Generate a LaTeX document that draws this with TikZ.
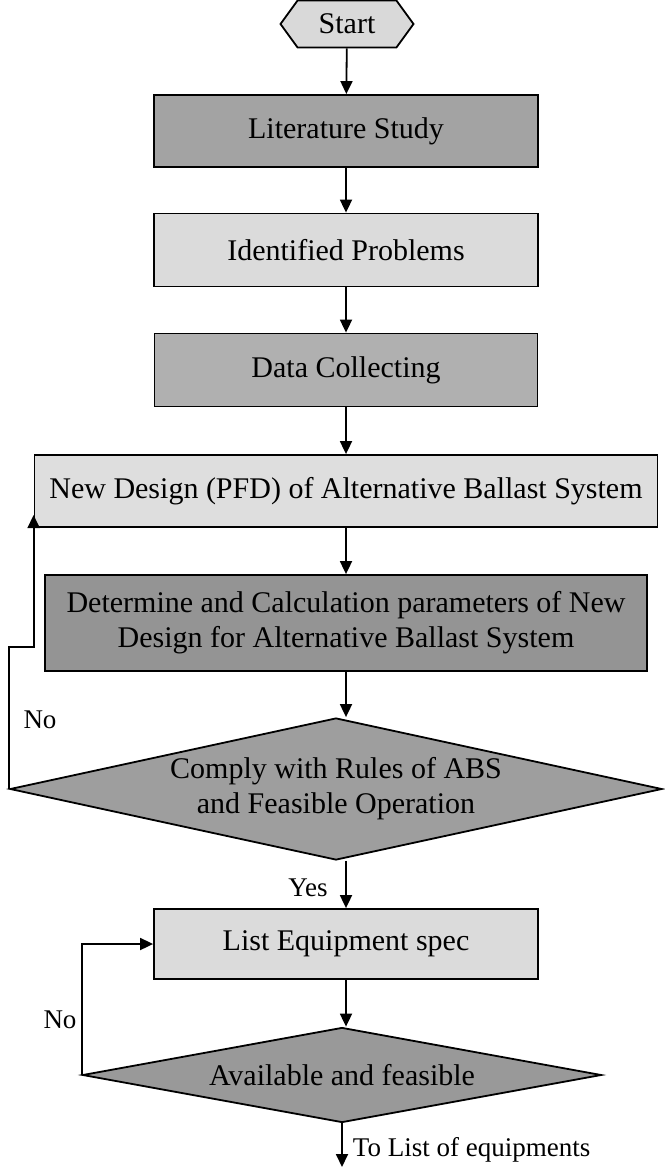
\documentclass[tikz,border=0pt]{standalone}
\usepackage{fontspec}
\setmainfont{Liberation Serif}
\usetikzlibrary{shapes.geometric,shapes.symbols,arrows.meta}

\begin{document}
\begin{tikzpicture}[x=1pt, y=1pt, line width=1.8pt, >={Triangle[length=13pt,width=12pt]}]
\tikzstyle{every node} = [font=\fontsize{30}{35}\selectfont, inner sep=0pt]
\tikzstyle{box} = [rectangle, draw, align=center]
\tikzstyle{decision} = [diamond, draw, align=center]
\tikzstyle{note} = [font=\fontsize{27}{32}\selectfont]
\useasboundingbox (0,0) rectangle (664,-1167);

\node (start) [signal, signal to=west and east, signal pointer angle=108, draw, fill=black!15, minimum width=133pt, minimum height=47pt] at (347,-24) {Start};
\node (lit) [box, fill=black!36, minimum width=384pt, minimum height=72pt] at (346,-131) {Literature Study};
\node (ident) [box, fill=black!14, minimum width=384pt, minimum height=73pt] at (346,-250) {Identified Problems};
\node (data) [box, fill=black!31, minimum width=383pt, minimum height=73pt] at (346,-370) {Data Collecting};
\node (pfd) [box, fill=black!13, minimum width=623pt, minimum height=72pt] at (346,-491) {New Design (PFD) of Alternative Ballast System};
\node (calc) [box, fill=black!42, minimum width=602pt, minimum height=96pt] at (346,-623) {Determine and Calculation parameters of New\\Design for Alternative Ballast System};
\node (rules) [decision, fill=black!38, aspect=4.59, minimum width=652pt, minimum height=142pt] at (336,-789) {Comply with Rules of ABS\\and Feasible Operation};
\node (spec) [box, fill=black!14, minimum width=384pt, minimum height=70pt] at (346,-944) {List Equipment spec};
\node (avail) [decision, fill=black!40, aspect=5.46, minimum width=519pt, minimum height=95pt] at (342,-1075) {Available and feasible};
\coordinate (out) at (342,-1167);

\node (yes) [note] at (308,-888) {Yes};
\node (no1) [note] at (40,-720) {No};
\node (no2) [note] at (60,-1020) {No};
\node (tolist) [note, anchor=west] at (352,-1150) {To List of equipments};

\draw [->] (start) -- (lit);
\draw [->] (lit) -- (ident);
\draw [->] (ident) -- (data);
\draw [->] (data) -- (pfd);
\draw [->] (pfd) -- (calc);
\draw [->] (calc) -- (calc |- rules.north);
\draw [->] (spec |- rules.south) -- (spec);
\draw [->] (spec) -- (spec |- avail.north);
\draw [->] (avail.south) -- (out);
% back to the design when rules fail
\draw [->] (rules.west) -- ++(0,142) -| ([yshift=-24pt]pfd.west);
\draw [->] (avail.west) |- (spec.west);
\end{tikzpicture}
\end{document}
